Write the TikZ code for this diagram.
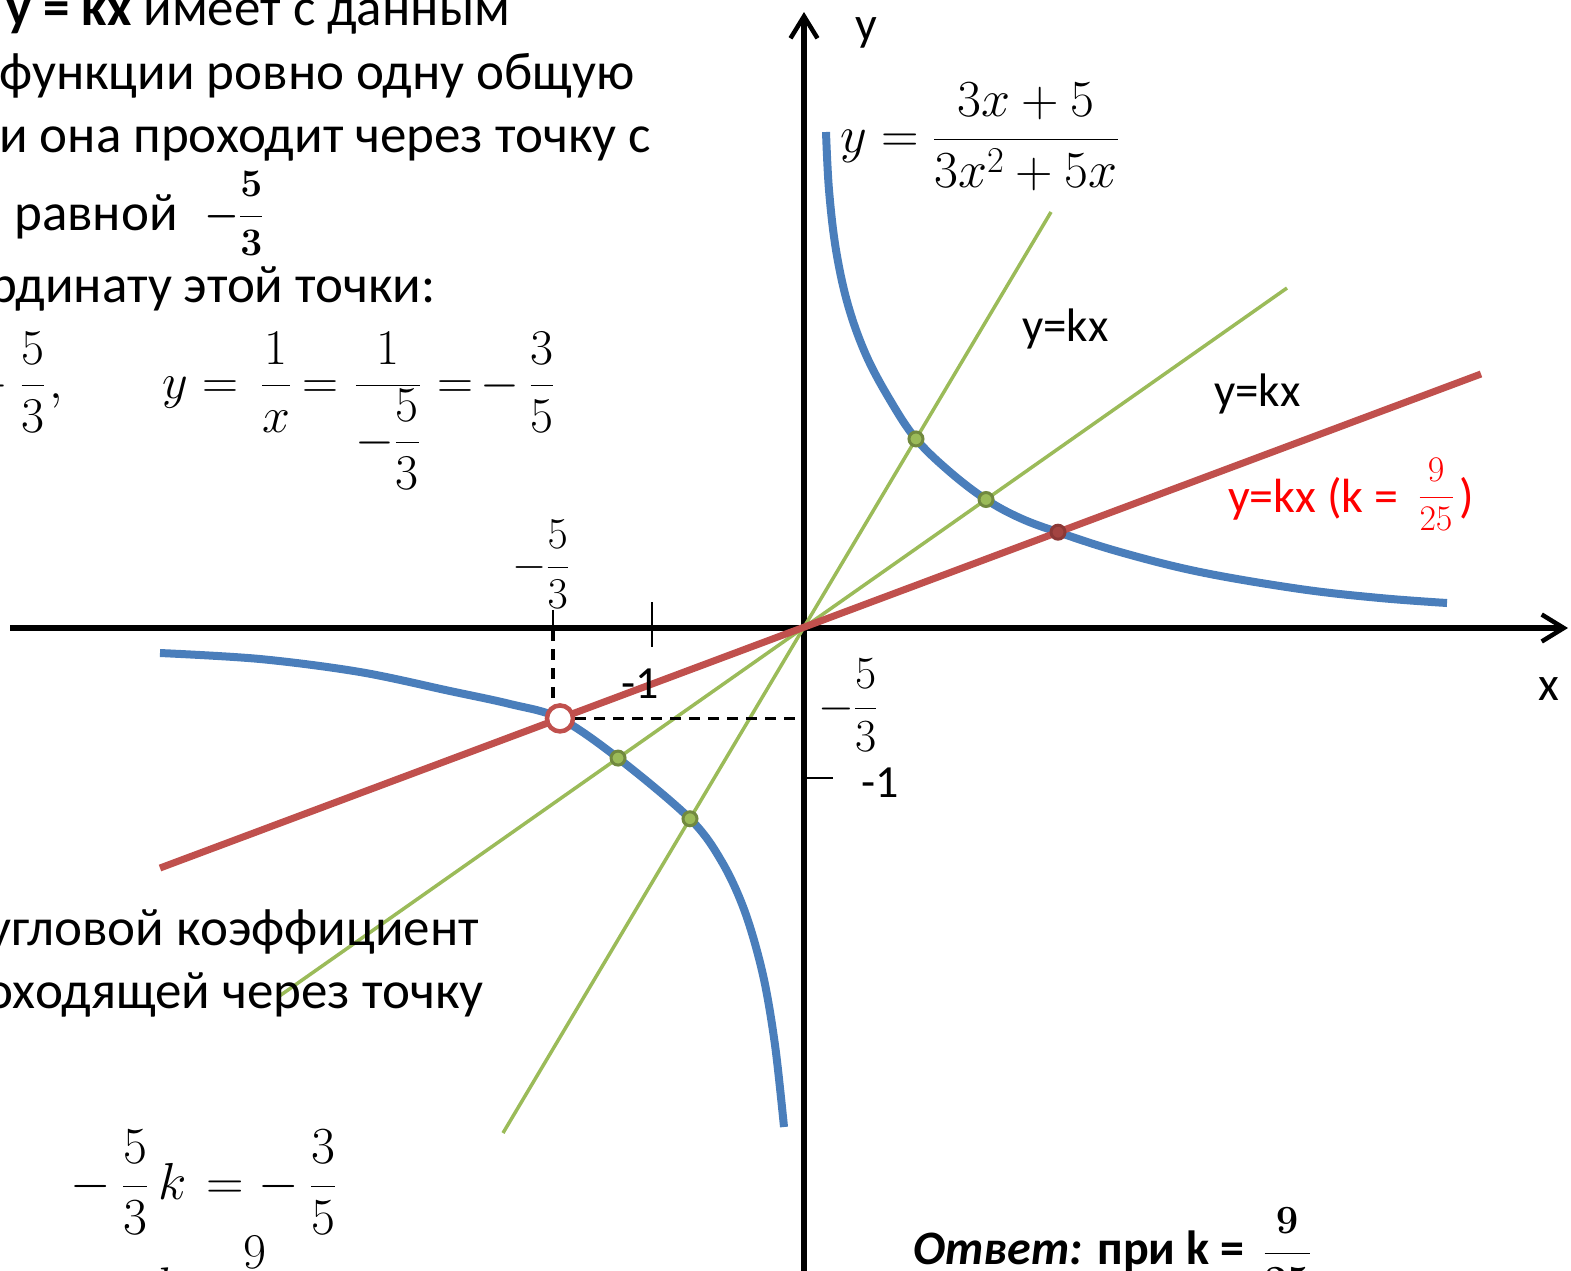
\RequirePackage{fix-cm}
\documentclass[tikz,border=0pt]{standalone}
\usepackage{amsmath}
\usepackage{fontspec}
\setmainfont{Carlito}
\usetikzlibrary{arrows.meta,calc}
\definecolor{cblue}{HTML}{4A7EBB}
\definecolor{cred}{HTML}{C0504D}
\definecolor{cgreen}{HTML}{9BBB59}
\definecolor{cdgreen}{HTML}{71893F}
\definecolor{cdred}{HTML}{8C3836}
\definecolor{tred}{HTML}{FF0000}
\newcommand{\myfs}[1]{\fontsize{#1}{#1}\selectfont}
\tikzset{
  axisln/.style={line width=5.5pt,-{Straight Barb[length=22pt,width=27pt,line width=4.5pt]}},
  tickln/.style={line width=2pt},
  hyp/.style={cblue,line width=8pt},
  gline/.style={cgreen,line width=3.5pt},
  rline/.style={cred,line width=7pt},
  gdot/.style={circle,fill=cgreen,draw=cdgreen,line width=3pt,minimum size=14pt,inner sep=0pt},
  rdot/.style={circle,fill=cred!85!black,draw=cdred,line width=3pt,minimum size=14pt,inner sep=0pt},
  hole/.style={circle,fill=white,draw=cred,line width=4.5pt,minimum size=26pt,inner sep=0pt},
  dsh/.style={line width=3.5pt,dash pattern=on 11pt off 8pt},
  tx/.style={inner sep=0pt,font=\myfs{#1}},
}
\begin{document}
\begin{tikzpicture}[x=1pt,y=-1pt]
\useasboundingbox (0,0) rectangle (1571,1270);
\clip (0,0) rectangle (1571,1270);
% axes
\coordinate (O) at (804,628);
\coordinate (xs) at (10,628);
\coordinate (xe) at (1568,628);
\coordinate (ys) at (804,1280);
\coordinate (ye) at (804,12);
\draw[axisln] (xs) -- (xe);
\draw[axisln] (ys) -- (ye);
% line end points
\coordinate (r1) at (160,868);
\coordinate (r2) at (1481,374);
\coordinate (g1a) at (503,1133);
\coordinate (g1b) at (1051,212);
\coordinate (g2a) at (278,997);
\coordinate (g2b) at (1287,288);
% intersection points
\coordinate (pG1u) at ($(g1a)!0.7536!(g1b)$);
\coordinate (pG1d) at ($(g1a)!0.3412!(g1b)$);
\coordinate (pG2u) at ($(g2a)!0.7017!(g2b)$);
\coordinate (pG2d) at ($(g2a)!0.337!(g2b)$);
\coordinate (pRu) at ($(r1)!0.6798!(r2)$);
\coordinate (pRd) at ($(r1)!0.3028!(r2)$);
% hyperbola
\draw[hyp] plot[smooth,tension=0.6] coordinates {(826,132) (829,190) (836,250) (848,305) (866,355) (890,400) (pG1u) (950,472) (pG2u) (1020,518) (pRu) (1120,552) (1200,572) (1300,589) (1380,598) (1447,603)};
\draw[hyp] plot[smooth,tension=0.55] coordinates {(160,653) (260,659) (360,672) (450,691) (510,704) (pRd) (pG2d) (pG1d) (722,862) (745,912) (763,975) (775,1045) (784,1127)};
% lines
\draw[gline] (g1a) -- (g1b);
\draw[gline] (g2a) -- (g2b);
\draw[rline] (r1) -- (r2);
% dashed guides and ticks
\node[hole] (H) at (pRd) {};
\coordinate (vt) at (553,630);
\draw[dsh] (vt) -- (vt |- H.north);
\draw[dsh] (H.east) -- (O |- H.east);
\draw[tickln] (553,610) -- (vt);
\draw[tickln] (652,602) -- (652,647);
\draw[tickln] (806,778) -- (833,778);
% dots
\node[gdot] (d1) at (pG1u) {};
\node[gdot] (d2) at (pG1d) {};
\node[gdot] (d3) at (pG2u) {};
\node[gdot] (d4) at (pG2d) {};
\node[rdot] (d5) at (pRu) {};
% axis labels
\node[tx=48] (xl) at (1549,689) {x};
\node[tx=48] (yl) at (866,33) {y};
\node[tx=46,anchor=base] (xm1) at (640,698) {-1};
\node[tx=46,anchor=base west] (ym1) at (861,797) {-1};
\node[tx=44,anchor=base west] (xf) at (512,578) {$-\dfrac{5}{3}$};
\node[tx=46,anchor=base west] (yf) at (818,720) {$-\dfrac{5}{3}$};
% function formula
\node[tx=52,anchor=base] (f0) at (854,152) {$y$};
\node[tx=52,anchor=base] (f1) at (900,152) {$=$};
\node[tx=52,anchor=base] (f2) at (1026,152) {$\dfrac{3x+5}{3x^2+5x}$};
% line labels
\node[tx=47,anchor=base west] (k1) at (1022,341) {y=kx};
\node[tx=47,anchor=base west] (k2) at (1214,406) {y=kx};
\node[tx=48,anchor=base west,text=tred] (k3) at (1228,512) {y=kx (k =};
\node[tx=36,anchor=base,text=tred] (k3f) at (1436,506) {$\dfrac{9}{25}$};
\node[tx=48,anchor=base west,text=tred] (k3p) at (1459,512) {)};
% top-left text
\node[tx=53,anchor=base west] (l1) at (6,25) {\textbf{y = kx} имеет с данным};
\node[tx=53,anchor=base west] (l2) at (-1,89) {функции ровно одну общую};
\node[tx=53,anchor=base west] (l3) at (-1,152) {и она проходит через точку с};
\node[tx=53,anchor=base west] (l4) at (14,230) {равной};
\node[tx=39,anchor=base west] (l4f) at (204,226) {$\boldsymbol{-\dfrac{5}{3}}$};
\node[tx=53,anchor=base west] (l5) at (-39,302) {ординату этой точки:};
% equation row
\node[tx=50,anchor=base east] (e0) at (9,398) {$x=-$};
\node[tx=50,anchor=base] (e1) at (33,398) {$\dfrac{5}{3}$};
\node[tx=50,anchor=base west] (e2) at (49,398) {$,$};
\node[tx=50,anchor=base] (e3) at (175,398) {$y$};
\node[tx=50,anchor=base] (e4) at (220,398) {$=$};
\node[tx=50,anchor=base] (e5) at (276,398) {$\dfrac{1}{x}$};
\node[tx=50,anchor=base] (e6) at (320,398) {$=$};
\node[tx=50,anchor=base] (e7) at (388,398) {$\dfrac{1}{-\dfrac{5}{3}}$};
\node[tx=50,anchor=base] (e8) at (455,398) {$=$};
\node[tx=50,anchor=base] (e9) at (500,398) {$-$};
\node[tx=50,anchor=base] (e10) at (542,398) {$\dfrac{3}{5}$};
% bottom-left text
\node[tx=53,anchor=base west] (t1) at (-13,945) {угловой коэффициент};
\node[tx=53,anchor=base west] (t2) at (-70,1008) {проходящей через точку};
\node[tx=52,anchor=base] (b0) at (91,1199) {$-$};
\node[tx=52,anchor=base] (b1) at (135,1199) {$\dfrac{5}{3}$};
\node[tx=52,anchor=base] (b2) at (173,1199) {$k$};
\node[tx=52,anchor=base] (b3) at (225,1199) {$=$};
\node[tx=52,anchor=base] (b4) at (279,1199) {$-$};
\node[tx=52,anchor=base] (b5) at (323,1199) {$\dfrac{3}{5}$};
\node[tx=50,anchor=base] (b6) at (168,1302) {$k$};
\node[tx=50,anchor=base] (b7) at (205,1302) {$=$};
\node[tx=50,anchor=base] (b8) at (255,1302) {$\dfrac{9}{25}$};
% answer
\node[tx=48,anchor=base west] (a1) at (913,1264) {\textbf{\textit{Ответ:}} \textbf{при k =}};
\node[tx=40,anchor=base] (a2) at (1287,1263) {$\boldsymbol{\dfrac{9}{25}}$};
\end{tikzpicture}
\end{document}
